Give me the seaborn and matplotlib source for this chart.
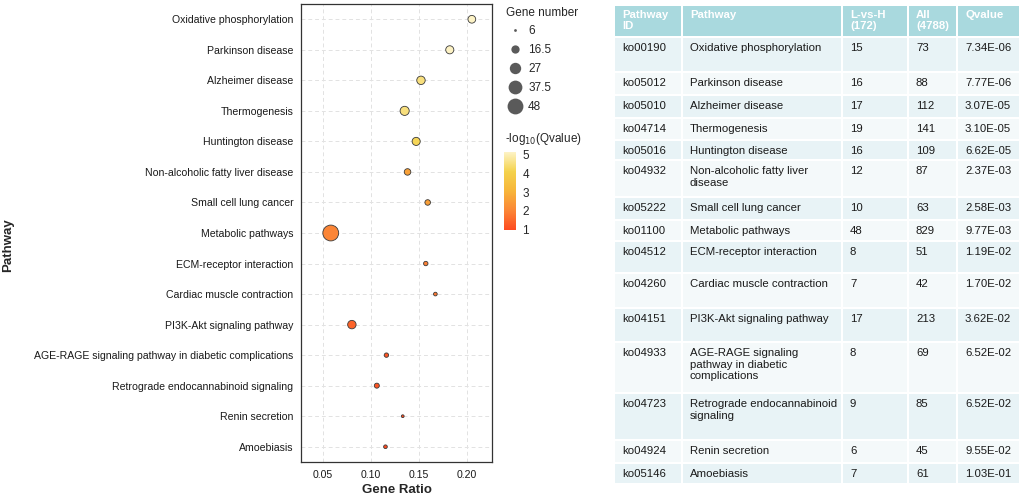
import numpy as np
import pandas as pd
import matplotlib
matplotlib.use("Agg")
import matplotlib.pyplot as plt
import seaborn as sns
from matplotlib.colors import LinearSegmentedColormap, Normalize
from matplotlib.lines import Line2D
from matplotlib.patches import Rectangle

# --- data (top to bottom) ---
pathway_ids = ["ko00190", "ko05012", "ko05010", "ko04714", "ko05016", "ko04932",
               "ko05222", "ko01100", "ko04512", "ko04260", "ko04151", "ko04933",
               "ko04723", "ko04924", "ko05146"]
pathways = ["Oxidative phosphorylation", "Parkinson disease", "Alzheimer disease",
            "Thermogenesis", "Huntington disease", "Non-alcoholic fatty liver disease",
            "Small cell lung cancer", "Metabolic pathways", "ECM-receptor interaction",
            "Cardiac muscle contraction", "PI3K-Akt signaling pathway",
            "AGE-RAGE signaling pathway in diabetic complications",
            "Retrograde endocannabinoid signaling", "Renin secretion", "Amoebiasis"]
table_names = ["Oxidative phosphorylation", "Parkinson disease", "Alzheimer disease",
               "Thermogenesis", "Huntington disease", "Non-alcoholic fatty liver\ndisease",
               "Small cell lung cancer", "Metabolic pathways", "ECM-receptor interaction",
               "Cardiac muscle contraction", "PI3K-Akt signaling pathway",
               "AGE-RAGE signaling\npathway in diabetic\ncomplications",
               "Retrograde endocannabinoid\nsignaling", "Renin secretion", "Amoebiasis"]
gene_number = [15, 16, 17, 19, 16, 12, 10, 48, 8, 7, 17, 8, 9, 6, 7]
all_number = [73, 88, 112, 141, 109, 87, 63, 829, 51, 42, 213, 69, 85, 45, 61]
gene_ratio = [0.205, 0.182, 0.152, 0.135, 0.147, 0.138, 0.159, 0.058, 0.157, 0.167,
              0.080, 0.116, 0.106, 0.133, 0.115]
qvalue = [7.34e-06, 7.77e-06, 3.07e-05, 3.10e-05, 6.62e-05, 2.37e-03, 2.58e-03,
          9.77e-03, 1.19e-02, 1.70e-02, 3.62e-02, 6.52e-02, 6.52e-02, 9.55e-02, 1.03e-01]
qvalue_txt = ["7.34E-06", "7.77E-06", "3.07E-05", "3.10E-05", "6.62E-05", "2.37E-03",
              "2.58E-03", "9.77E-03", "1.19E-02", "1.70E-02", "3.62E-02", "6.52E-02",
              "6.52E-02", "9.55E-02", "1.03E-01"]
size_breaks = [6, 16.5, 27, 37.5, 48]
header = ["Pathway\nID", "Pathway", "L-vs-H\n(172)", "All\n(4788)", "Qvalue"]

df = pd.DataFrame({"Pathway": pathways, "GeneRatio": gene_ratio,
                   "Count": gene_number, "logq": -np.log10(qvalue)})

sns.set_theme(style="white")
plt.rcParams["font.family"] = ["Liberation Sans", "DejaVu Sans"]

cmap = LinearSegmentedColormap.from_list(
    "qv", ["#fe4a20", "#fb8636", "#f7b53a", "#f4d24c", "#fdf3c6"])
norm = Normalize(vmin=0.99, vmax=5.13)
size_range = (4, 130)

fig = plt.figure(figsize=(10.24, 4.96), dpi=100)
ax = fig.add_axes([301 / 1024, 1 - 462 / 496, 191 / 1024, 458 / 496])

sns.scatterplot(data=df, x="GeneRatio", y="Pathway", hue="logq", size="Count",
                palette=cmap, hue_norm=norm, sizes=size_range, size_norm=(6, 48),
                edgecolor="#3a3a3a", linewidth=0.6, legend=False, ax=ax, zorder=3)

ax.set_xlim(0.027, 0.226)
ax.set_ylim(len(pathways) - 0.5, -0.5)
ax.set_xticks([0.05, 0.10, 0.15, 0.20])
ax.set_xticklabels(["0.05", "0.10", "0.15", "0.20"])
ax.grid(True, linestyle=(0, (4, 3)), color="#e2e2e2", linewidth=0.7)
ax.set_axisbelow(True)
for s in ax.spines.values():
    s.set_color("#333333")
    s.set_linewidth(0.9)
ax.tick_params(axis="both", labelsize=7.6, colors="#1a1a1a", length=2, width=0.6)
ax.set_xlabel("Gene Ratio", fontsize=9.5, fontweight="bold", labelpad=3)
ax.set_ylabel("")
fig.text(8 / 1024, 1 - 245 / 496, "Pathway", rotation=90, fontsize=9.5,
         fontweight="bold", ha="center", va="center")

# size legend
smin, smax = size_range
handles = []
for b in size_breaks:
    area = smin + (smax - smin) * (b - 6) / 42
    handles.append(Line2D([], [], marker="o", linestyle="", color="#5a5a5a",
                          markersize=np.sqrt(area), markeredgewidth=0))
leg = fig.legend(handles, [f"{b:g}" for b in size_breaks], title="Gene number",
                 loc="upper left", bbox_to_anchor=(495 / 1024, 1 + 4 / 496),
                 frameon=False, fontsize=8.5, title_fontsize=8.5, labelspacing=0.58,
                 handletextpad=0.3, handlelength=1.6, alignment="left")

# colorbar
fig.text(505 / 1024, 1 - 139 / 496, "-log$_{10}$(Qvalue)", fontsize=8.5,
         ha="left", va="center")
cax = fig.add_axes([504 / 1024, 1 - 230 / 496, 12 / 1024, 78 / 496])
cb = fig.colorbar(plt.cm.ScalarMappable(norm=norm, cmap=cmap), cax=cax,
                  ticks=[1, 2, 3, 4, 5])
cb.outline.set_visible(False)
cax.tick_params(labelsize=8.5, length=2.5, color="white", pad=2, width=0.6)

# table
tax = fig.add_axes([0, 0, 1, 1])
tax.set_xlim(0, 1024)
tax.set_ylim(496, 0)
tax.axis("off")
col_edges = [614, 682, 842, 908, 957, 1020]
row_edges = [5, 37, 72, 95, 118, 140, 160, 197, 220, 241, 273, 308, 342, 393, 440, 463, 484]
gap = 1.5
for r in range(len(row_edges) - 1):
    y0, y1 = row_edges[r], row_edges[r + 1]
    if r == 0:
        color = "#a9d9de"
    else:
        color = "#e8f3f6" if r % 2 == 1 else "#f4f9fa"
    for c in range(len(col_edges) - 1):
        x0, x1 = col_edges[c], col_edges[c + 1]
        tax.add_patch(Rectangle((x0 + gap / 2, y0 + gap / 2), x1 - x0 - gap,
                                y1 - y0 - gap, facecolor=color, edgecolor="none"))

for c, h in enumerate(header):
    tax.text(col_edges[c] + 8, row_edges[0] + 5, h, fontsize=8.2, color="white",
             fontweight="bold", va="top", ha="left", linespacing=1.15)

for i in range(len(pathway_ids)):
    row = [pathway_ids[i], table_names[i], str(gene_number[i]), str(all_number[i]),
           qvalue_txt[i]]
    for c, val in enumerate(row):
        tax.text(col_edges[c] + 8, row_edges[i + 1] + 6, val, fontsize=8.2,
                 color="#1a1a1a", va="top", ha="left", linespacing=1.2)

fig.savefig("out.png", dpi=100)
